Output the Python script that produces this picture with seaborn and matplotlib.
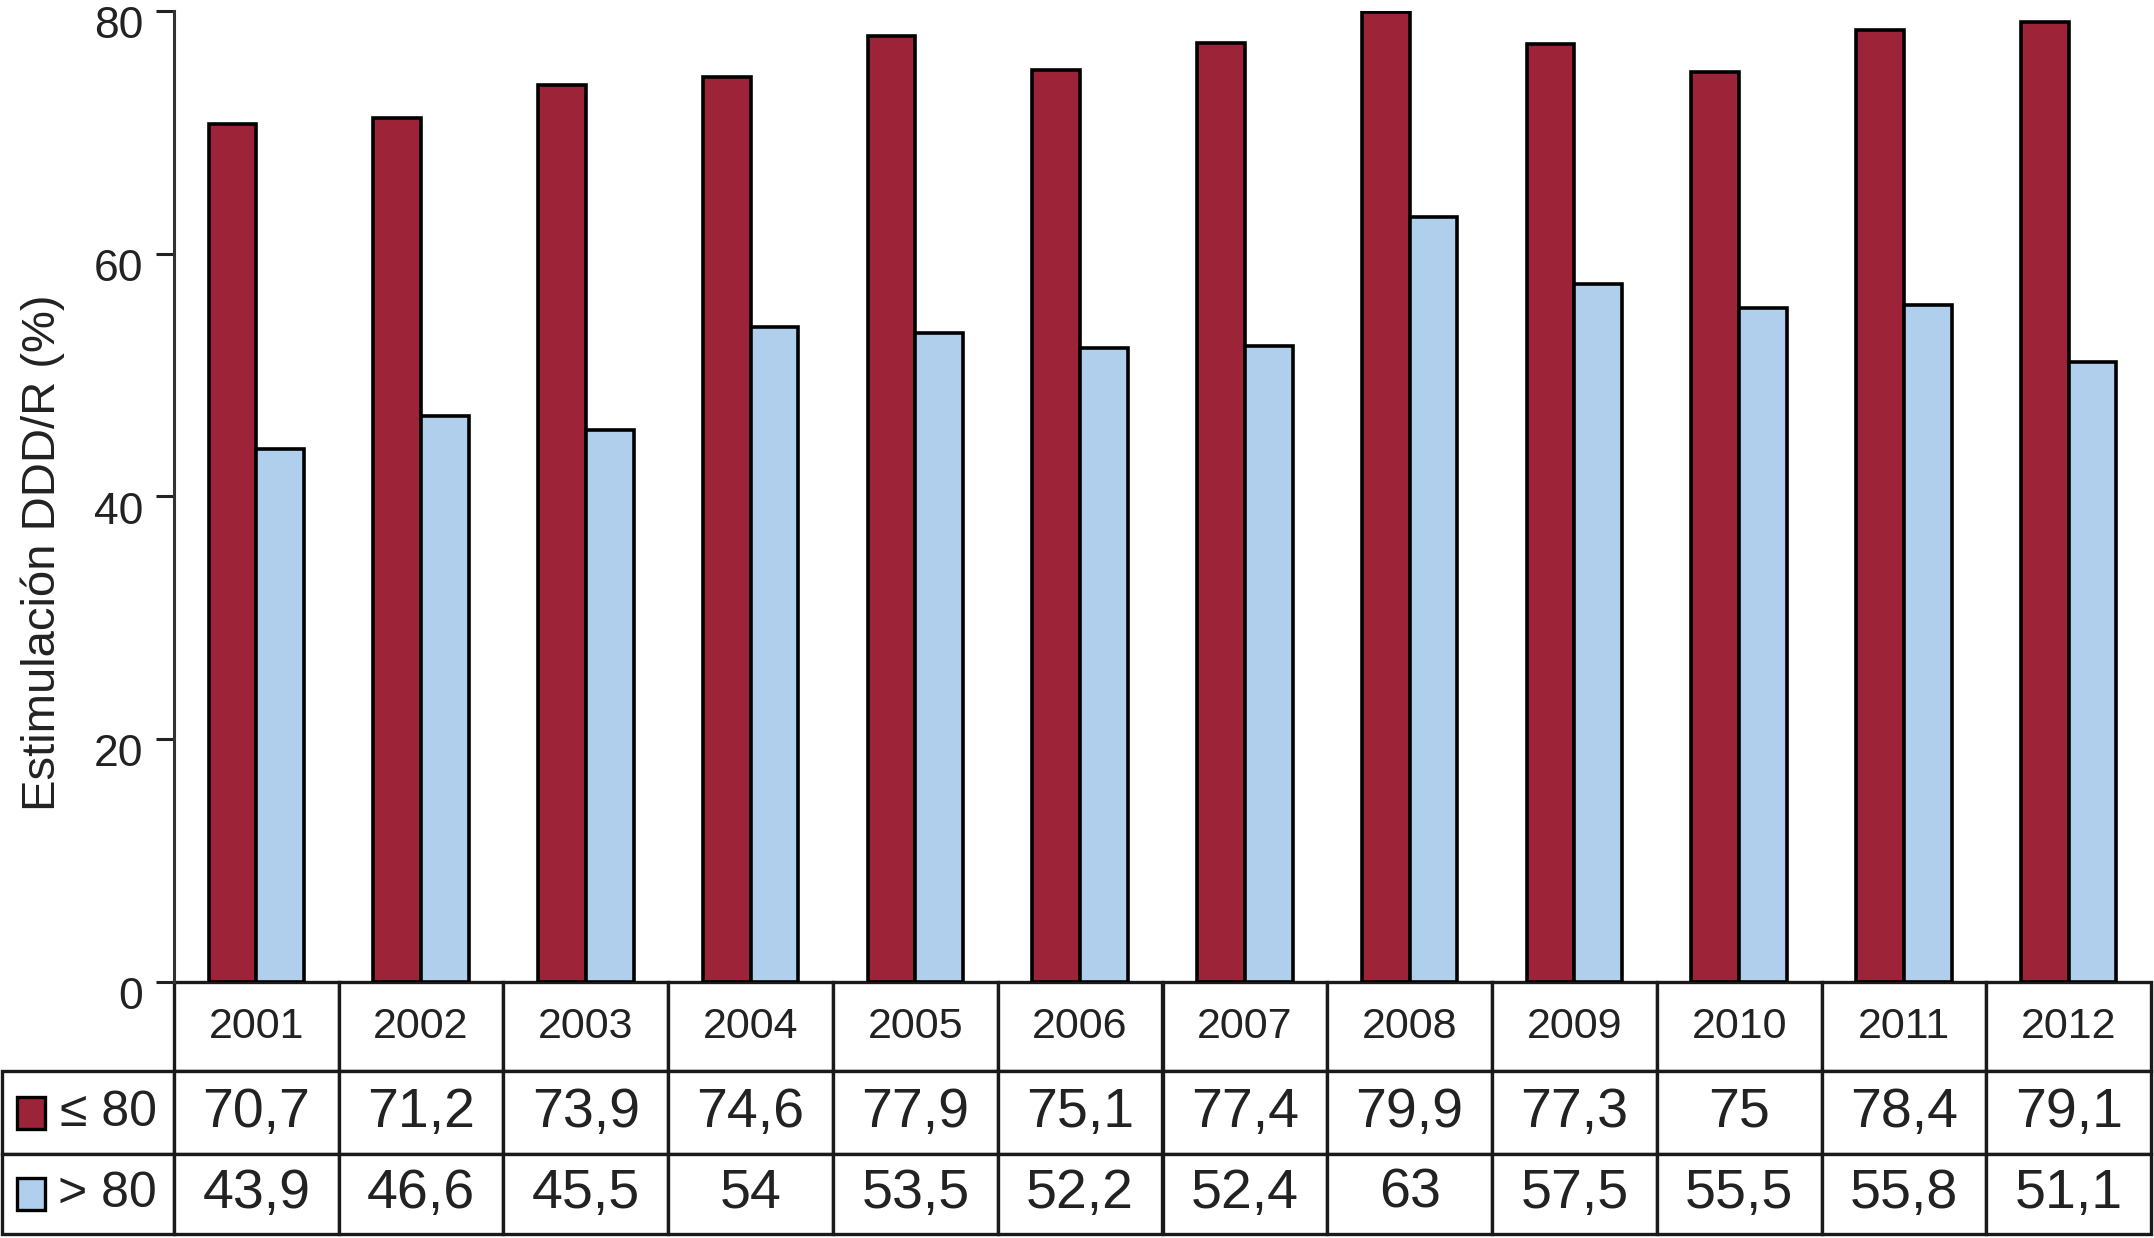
import pandas as pd
import matplotlib.pyplot as plt
import matplotlib.transforms as mtransforms
from matplotlib.patches import Rectangle
from matplotlib.table import Table
import seaborn as sns

# =========================
# DATOS
# =========================
anios = ['2001', '2002', '2003', '2004', '2005', '2006',
         '2007', '2008', '2009', '2010', '2011', '2012']
grupos = ['≤ 80', '> 80']
menor_80 = [70.7, 71.2, 73.9, 74.6, 77.9, 75.1, 77.4, 79.9, 77.3, 75.0, 78.4, 79.1]
mayor_80 = [43.9, 46.6, 45.5, 54.0, 53.5, 52.2, 52.4, 63.0, 57.5, 55.5, 55.8, 51.1]
etiquetas_menor = ['70,7', '71,2', '73,9', '74,6', '77,9', '75,1',
                   '77,4', '79,9', '77,3', '75', '78,4', '79,1']
etiquetas_mayor = ['43,9', '46,6', '45,5', '54', '53,5', '52,2',
                   '52,4', '63', '57,5', '55,5', '55,8', '51,1']
colores = ['#9d2338', '#afcfec']

df = pd.DataFrame({
    'Año': anios * 2,
    'Grupo': [grupos[0]] * len(anios) + [grupos[1]] * len(anios),
    'Valor': menor_80 + mayor_80,
})

# =========================
# ESTILO
# =========================
sns.set_theme(style='ticks')
plt.rcParams['font.family'] = ['Liberation Sans', 'DejaVu Sans']

W, H = 2154, 1238
fig = plt.figure(figsize=(W / 100, H / 100), dpi=100)

# posiciones en pixeles
x0, x1 = 174, 2151
y_top, y_cero, y_fin = 11, 982, 1234
ax = fig.add_axes([x0 / W, 1 - y_cero / H, (x1 - x0) / W, (y_cero - y_top) / H])

# =========================
# BARRAS
# =========================
sns.barplot(data=df, x='Año', y='Valor', hue='Grupo', order=anios,
            hue_order=grupos, palette=colores, width=0.58, dodge=True,
            edgecolor='black', linewidth=2.6, saturation=1, legend=False, ax=ax)

ax.set_xlim(-0.5, len(anios) - 0.5)
ax.set_ylim(0, 80)
ax.set_yticks([0, 20, 40, 60, 80])
ax.set_xticks([])
ax.set_xlabel('')
ax.set_ylabel('Estimulación DDD/R (%)', fontsize=34, color='#222222')
ax.yaxis.set_label_coords(-0.055, 0.442)
for s in ['top', 'right', 'bottom']:
    ax.spines[s].set_visible(False)
ax.spines['left'].set_linewidth(2.2)
ax.spines['left'].set_color('#333333')
ax.tick_params(axis='y', direction='out', length=13, width=2.2, pad=9,
               labelsize=32, color='#222222', labelcolor='#222222')
desplazar = mtransforms.ScaledTranslation(0, -8 / 72, fig.dpi_scale_trans)
for lab in ax.get_yticklabels():
    lab.set_transform(lab.get_transform() + desplazar)

# =========================
# TABLA
# =========================
aw = x1 - x0
ah = y_cero - y_top
tx0 = 2
alto_tabla = (y_fin - y_cero) / ah
tabla = Table(ax, bbox=[0, -alto_tabla, 1, alto_tabla])
tabla.auto_set_font_size(False)
ancho_col = 1 / len(anios)
altos = [89 / ah, 83 / ah, 80 / ah]

filas = [etiquetas_menor, etiquetas_mayor]
for j, anio in enumerate(anios):
    tabla.add_cell(0, j, width=ancho_col, height=altos[0], text=anio, loc='center')
for i, fila in enumerate(filas):
    tabla.add_cell(i + 1, -1, width=(x0 - tx0) / aw, height=altos[i + 1],
                   text=grupos[i], loc='right')
    for j, txt in enumerate(fila):
        tabla.add_cell(i + 1, j, width=ancho_col, height=altos[i + 1], text=txt, loc='center')

for (r, c), celda in tabla.get_celld().items():
    celda.set_linewidth(2.4)
    celda.set_edgecolor('#1a1a1a')
    celda.get_text().set_color('#222222')
    if r == 0:
        celda.get_text().set_fontsize(31)
    elif c == -1:
        celda.get_text().set_fontsize(36)
    else:
        celda.get_text().set_fontsize(40)
ax.add_table(tabla)

# cuadros de leyenda en las etiquetas de fila
inicio = y_cero + 89
for i, color in enumerate(colores):
    yc = inicio + [83, 80][i] / 2 + (83 if i == 1 else 0)
    lado_x, lado_y = 28, 32
    fig.add_artist(Rectangle(((31 - lado_x / 2) / W, 1 - (yc + lado_y / 2) / H),
                             lado_x / W, lado_y / H, transform=fig.transFigure,
                             facecolor=color, edgecolor='black', linewidth=2.4))

fig.savefig('out.png', dpi=100)
